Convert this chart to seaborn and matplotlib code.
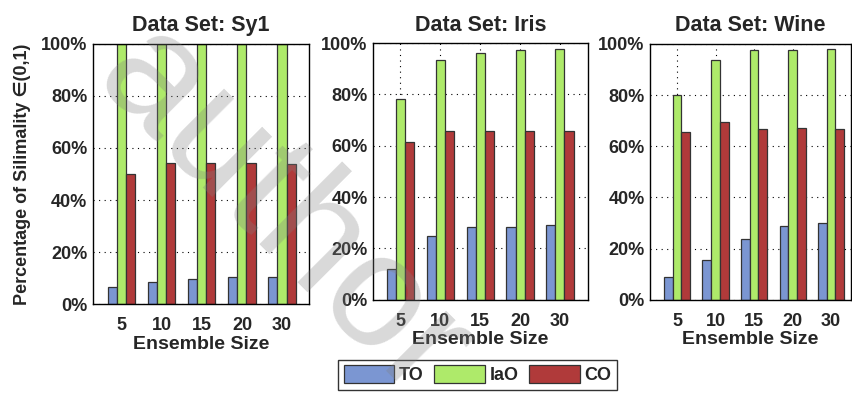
import numpy as np
import pandas as pd
import matplotlib
matplotlib.use("Agg")
import matplotlib.pyplot as plt
import seaborn as sns

# values (percent)
sizes = ["5", "10", "15", "20", "30"]
methods = ["TO", "IaO", "CO"]
datasets = ["Sy1", "Iris", "Wine"]

sy1_to = [6.6, 8.6, 9.5, 10.5, 10.5]
sy1_iao = [100, 100, 100, 100, 100]
sy1_co = [50.0, 54.2, 54.2, 54.2, 53.8]

iris_to = [11.9, 24.8, 28.3, 28.3, 29.1]
iris_iao = [78.4, 93.4, 96.2, 97.3, 97.7]
iris_co = [61.4, 65.6, 65.6, 65.6, 65.6]

wine_to = [8.9, 15.5, 23.9, 28.7, 30.0]
wine_iao = [79.9, 93.5, 97.7, 97.7, 98.0]
wine_co = [65.5, 69.3, 66.6, 67.0, 66.7]

palette = {"TO": "#7b96d2", "IaO": "#aeea6a", "CO": "#b03a3a"}

rows = []
for ds, series in zip(datasets, [(sy1_to, sy1_iao, sy1_co),
                                 (iris_to, iris_iao, iris_co),
                                 (wine_to, wine_iao, wine_co)]):
    for m, vals in zip(methods, series):
        for s, v in zip(sizes, vals):
            rows.append({"dataset": ds, "method": m, "size": s, "value": v})
df = pd.DataFrame(rows)

sns.set_theme(style="white")
plt.rcParams["font.family"] = ["Liberation Sans", "DejaVu Sans"]

fig = plt.figure(figsize=(8.52, 3.95), dpi=100)
positions = [[0.109, 0.230, 0.254, 0.659],
             [0.438, 0.241, 0.252, 0.650],
             [0.763, 0.241, 0.236, 0.648]]
xlims = [(-0.72, 4.68), (-0.68, 4.7), (-0.7, 4.52)]

for i, ds in enumerate(datasets):
    ax = fig.add_axes(positions[i])
    sub = df[df["dataset"] == ds]
    sns.barplot(data=sub, x="size", y="value", hue="method", order=sizes,
                hue_order=methods, palette=palette, width=0.68, gap=0,
                edgecolor="#333333", linewidth=0.9, saturation=1,
                legend=(i == 0), ax=ax, zorder=2)
    ax.set_ylim(0, 100)
    ax.set_xlim(*xlims[i])
    ax.set_yticks([0, 20, 40, 60, 80, 100])
    ax.set_yticklabels([f"{t}%" for t in range(0, 101, 20)])
    ax.grid(True, linestyle=(0, (1, 4)), color="black", linewidth=0.8, zorder=0)
    ax.set_axisbelow(True)
    for sp in ax.spines.values():
        sp.set_color("black")
        sp.set_linewidth(1.0)
    ax.tick_params(axis="y", labelsize=13, length=0, pad=4)
    ax.tick_params(axis="x", labelsize=13, length=0, pad=9.5)
    for lab in ax.get_xticklabels() + ax.get_yticklabels():
        lab.set_fontweight("bold")
    ax.set_xlabel("Ensemble Size", fontsize=14, fontweight="bold", labelpad=1)
    ax.set_ylabel("")
    ax.set_title(f"Data Set: {ds}", fontsize=15.5, fontweight="bold", pad=9)
    if i == 0:
        ax.set_ylabel("Percentage of Silimality \u2208(0,1)", fontsize=13,
                      fontweight="bold", labelpad=7)
        handles, labels = ax.get_legend_handles_labels()
        ax.get_legend().remove()

leg = fig.legend(handles, labels, loc="center", bbox_to_anchor=(0.5605, 0.051),
                 ncol=3, frameon=True, fancybox=False, edgecolor="black",
                 handlelength=2.8, handleheight=1.1, columnspacing=0.6,
                 handletextpad=0.25, borderpad=0.3,
                 prop={"weight": "bold", "size": 13})
leg.get_frame().set_linewidth(1.0)

# watermark
fig.text(0.33, 0.456, "author", fontsize=116, color="gray", alpha=0.3,
         rotation=-45, ha="center", va="center", zorder=10)

fig.savefig("out.png", dpi=100)
